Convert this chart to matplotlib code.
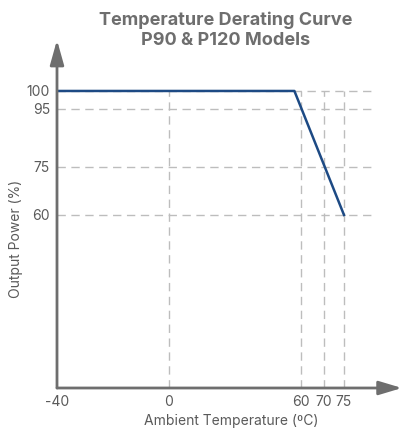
import numpy as np
import matplotlib
matplotlib.use("Agg")
import matplotlib.pyplot as plt

# Curve
temps = [-40, 57, 75]
power = [100, 100, 60]

x_ticks = [-40, 0, 60, 70, 75]
y_ticks = [60, 75, 95, 100]
x_grid = [0, 60, 70, 75]

# The drawing's axes are not linear, so map values through breakpoints
x_vals = [-40, 0, 60, 70, 75, 90]
x_pos = [0, 112, 244, 267, 287, 347]
y_vals = [0, 60, 75, 95, 100, 120]
y_pos = [0, 173, 221, 279, 297, 369]

def fx(v):
    return np.interp(v, x_vals, x_pos)

def ix(p):
    return np.interp(p, x_pos, x_vals)

def fy(v):
    return np.interp(v, y_vals, y_pos)

def iy(p):
    return np.interp(p, y_pos, y_vals)

plt.rcParams['font.family'] = ['Inter', 'DejaVu Sans']
gray = '#6e6e6e'
txt = '#5a5a5a'
grid_c = '#bdbdbd'

fig = plt.figure(figsize=(4.02, 4.30), dpi=100)
ax = fig.add_axes([57 / 402, 42 / 430, 315 / 402, 328 / 430])
ax.set_xscale('function', functions=(fx, ix))
ax.set_yscale('function', functions=(fy, iy))
ax.set_xlim(-40, 82)
ax.set_ylim(0, 108.6)

for s in ax.spines.values():
    s.set_visible(False)

# dashed guide lines
for v in y_ticks:
    ax.plot([-40, 82], [v, v], color=grid_c, lw=1, dashes=(6, 4), zorder=1)
for v in x_grid:
    ax.plot([v, v], [0, 100], color=grid_c, lw=1, dashes=(6, 4), zorder=1)

ax.plot(temps, power, color='#1d4a84', lw=1.8, zorder=3)

# axes with arrow heads
ax.annotate('', xy=(1.095, 0), xytext=(0, 0), xycoords='axes fraction',
            arrowprops=dict(arrowstyle='-|>,head_length=1.4,head_width=0.42',
                            color=gray, lw=2, mutation_scale=10,
                            shrinkA=0, shrinkB=0), annotation_clip=False)
ax.annotate('', xy=(0, 1.061), xytext=(0, 0), xycoords='axes fraction',
            arrowprops=dict(arrowstyle='-|>,head_length=1.5,head_width=0.42',
                            color=gray, lw=2, mutation_scale=10,
                            shrinkA=0, shrinkB=0), annotation_clip=False)

ax.set_xticks(x_ticks)
ax.set_xticklabels([str(t) for t in x_ticks])
ax.set_yticks(y_ticks)
ax.set_yticklabels([str(t) for t in y_ticks])
ax.minorticks_off()
ax.tick_params(length=0, labelsize=10, colors=txt, pad=5)

ax.set_xlabel('Ambient Temperature (ºC)', fontsize=10, color=txt)
ax.set_ylabel('Output Power (%)', fontsize=10, color=txt)
ax.xaxis.set_label_coords((231 - 57) / 315, -(414 - 388) / 328)
ax.yaxis.set_label_coords((23 - 57) / 315, (388 - 239) / 328)

fig.text(226 / 402, 1 - 30 / 430, 'Temperature Derating Curve\nP90 & P120 Models',
         ha='center', va='center', fontsize=13, fontweight='bold', color=gray,
         linespacing=1.25)

fig.savefig('out.png', dpi=100)
